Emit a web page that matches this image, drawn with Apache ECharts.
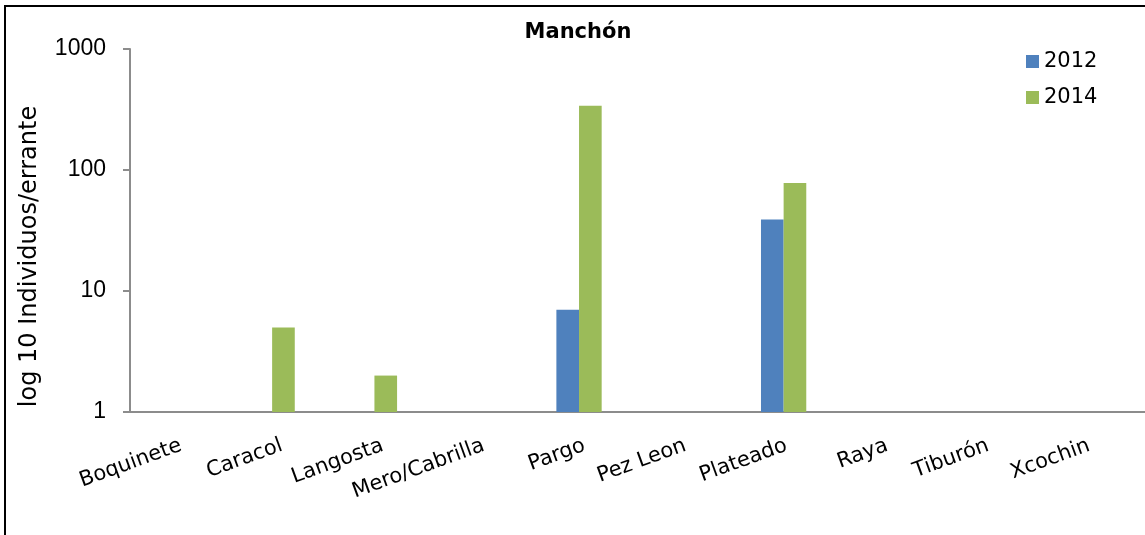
<!DOCTYPE html>
<html><head><meta charset="utf-8">
<script src="https://cdn.jsdelivr.net/npm/echarts@6/dist/echarts.min.js"></script>
<style>html,body{margin:0;padding:0;background:#fff}#c{width:1145px;height:535px}</style>
</head><body><div id="c"></div>
<script>
const categories = ['Boquinete','Caracol','Langosta','Mero/Cabrilla','Pargo','Pez Leon','Plateado','Raya','Tiburón','Xcochin'];
const values2012 = [null,null,null,null,7,null,39,null,null,null];
const values2014 = [null,5,2,null,340,null,78,null,null,null];
const valuesHidden = [null,null,null,null,null,null,null,null,null,null];
const seriesNames = ['2012','2014'];
const colors = ['#4f81bd','#9bbb59'];

const chart = echarts.init(document.getElementById('c'));
chart.setOption({
  animation:false,
  title:{text:'Manchón',left:573,top:17,textAlign:'center',textStyle:{fontFamily:'DejaVu Sans',fontSize:21,fontWeight:'bold',color:'#000'}},
  legend:{data:seriesNames,orient:'vertical',left:1021,top:46,itemWidth:13,itemHeight:13,itemGap:15,icon:'rect',
    textStyle:{fontFamily:'DejaVu Sans',fontSize:21,color:'#000',padding:[0,0,0,0]}},
  grid:[
    {left:130,width:1023,top:49,height:363,containLabel:false,outerBoundsMode:'none'},
    {left:130.5,width:1009,top:49,height:363,containLabel:false,outerBoundsMode:'none'}
  ],
  xAxis:[
    {type:'category',data:categories,gridIndex:0,
     axisLine:{lineStyle:{color:'#8c8c8c',width:2}},
     axisTick:{alignWithLabel:false,length:6,lineStyle:{color:'#8c8c8c',width:2}},
     axisLabel:{show:false}},
    {type:'category',data:categories,gridIndex:1,
     axisLine:{show:false},axisTick:{show:false},
     axisLabel:{rotate:20,interval:0,margin:33,fontFamily:'DejaVu Sans',fontSize:21,color:'#000'}}
  ],
  yAxis:[
    {type:'log',logBase:10,min:1,max:1000,gridIndex:0,
    name:'log 10 Individuos/errante',nameLocation:'middle',nameGap:88,nameRotate:90,
    nameTextStyle:{fontFamily:'DejaVu Sans',fontSize:24,color:'#000',padding:[0,52,0,0]},
    axisLine:{show:true,lineStyle:{color:'#8c8c8c',width:2}},
    axisTick:{show:true,length:7,lineStyle:{color:'#8c8c8c',width:2}},
    splitLine:{show:false},
    axisLabel:{margin:24,fontFamily:'Liberation Sans',fontSize:23,color:'#000',formatter:function(v){return String(v);}}},
    {type:'value',gridIndex:1,show:false}
  ],
  series:[
    {name:'2012',type:'bar',data:values2012,itemStyle:{color:colors[0]},barGap:'0%',barCategoryGap:'33.6%'},
    {name:'2014',type:'bar',data:values2014,itemStyle:{color:colors[1]}},
    {name:'hidden',type:'bar',data:valuesHidden,itemStyle:{color:'transparent'}}
  ],
  graphic:[{type:'rect',shape:{x:5,y:6,width:1200,height:600},style:{fill:'none',stroke:'#000',lineWidth:2},silent:true,z:-1}]
});
</script></body></html>
